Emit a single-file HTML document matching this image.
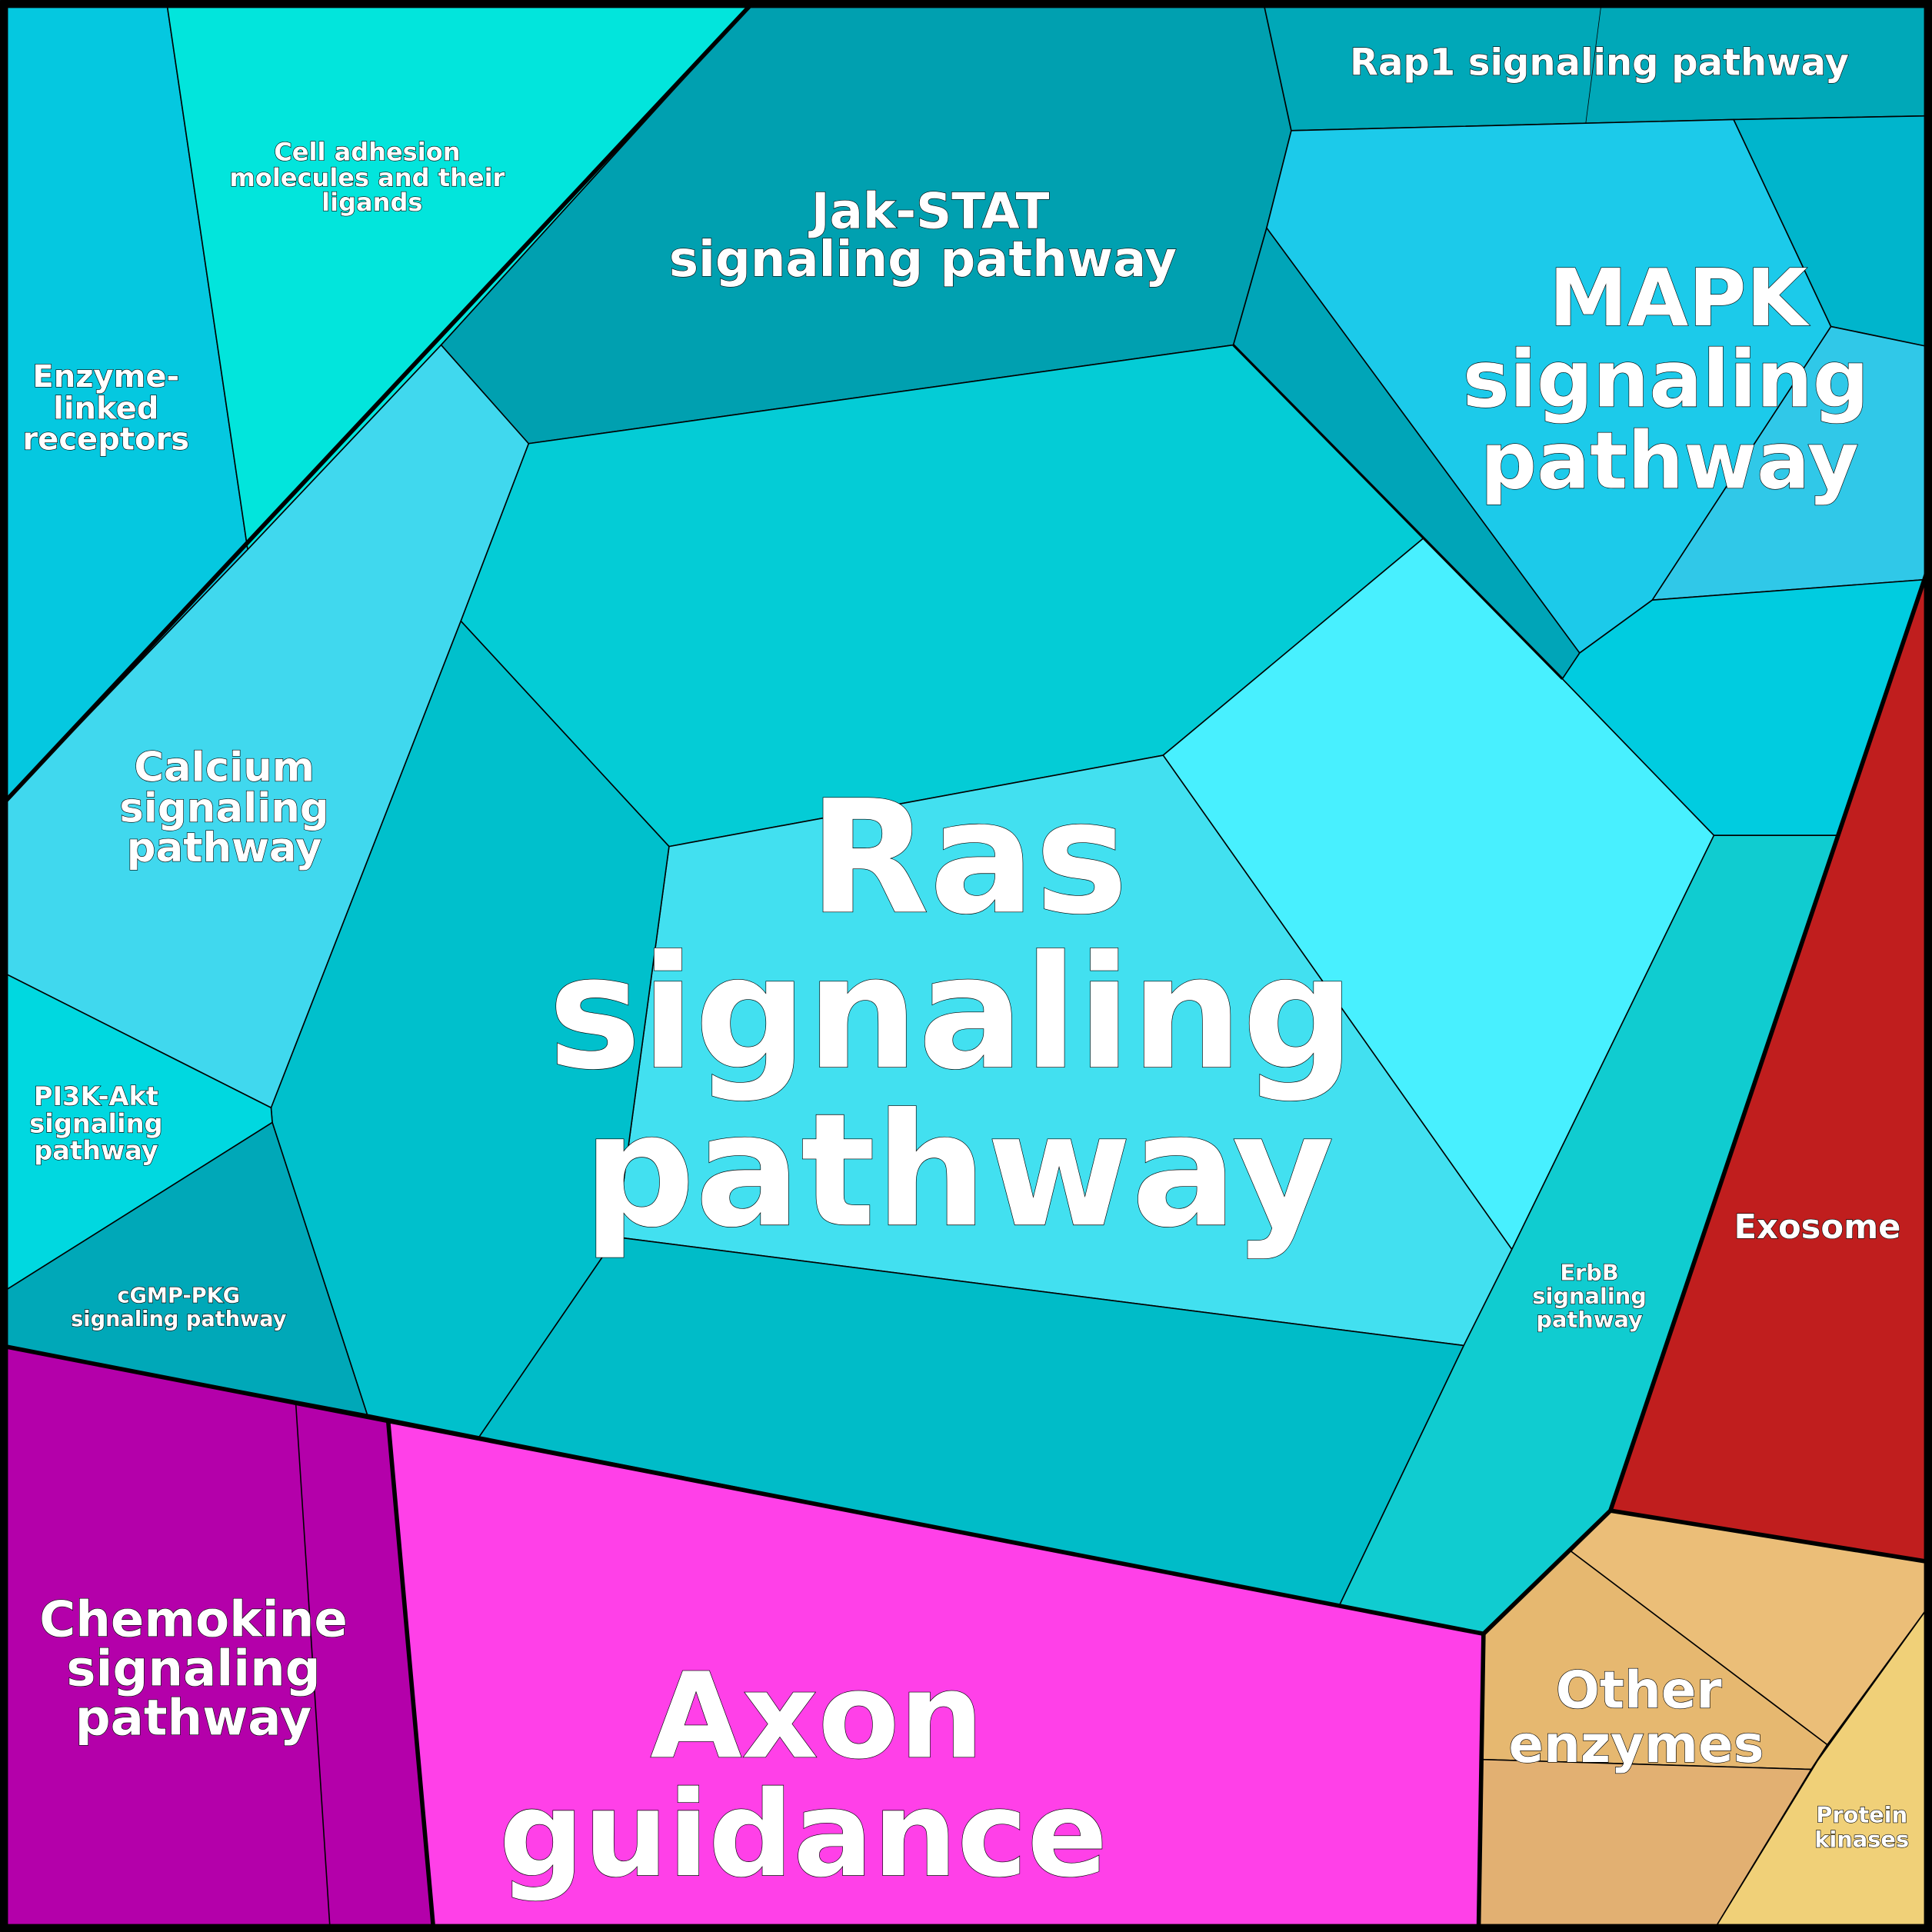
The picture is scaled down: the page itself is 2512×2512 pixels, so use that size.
<!DOCTYPE html>
<html><head><meta charset="utf-8"><style>html,body{margin:0;padding:0;background:#000}svg{display:block}
text{font-family:"DejaVu Sans","Liberation Sans",sans-serif;font-weight:bold;fill:#fff;stroke:#000;stroke-width:0.8;text-anchor:middle;paint-order:stroke}</style></head>
<body>
<svg width="2512" height="2512" viewBox="0 0 1568 1568" xmlns="http://www.w3.org/2000/svg">
<g stroke="#000" stroke-width="1" stroke-linejoin="round">
<polygon fill="#05c8e0" points="0,0 135,0 201,446 0,655"/>
<polygon fill="#02e5dc" points="135,0 613,0 358,280 201,446"/>
<polygon fill="#00a0b0" points="613,0 1025,0 1048,106 1028,185 1001,280 429,360 358,280"/>
<polygon fill="#00a8b8" points="1025,0 1568,0 1568,94 1407,97 1048,106"/>
<line x1="1300" y1="0" x2="1287" y2="100" stroke-width="0.5"/>
<polygon fill="#1ccaea" points="1048,106 1407,97 1486,265 1341,487 1282,530 1028,185"/>
<polygon fill="#00b5cc" points="1407,97 1568,94 1568,282 1486,265"/>
<polygon fill="#30c8e8" points="1486,265 1568,282 1568,470 1341,487"/>
<polygon fill="#00a5b8" points="1028,185 1282,530 1268,551 1001,280"/>
<polygon fill="#00cce0" points="1282,530 1341,487 1568,470 1492,678 1391,678 1268,551"/>
<polygon fill="#c01e1e" points="1568,452 1568,1268 1307,1226"/>
<polygon fill="#04ccd6" points="429,360 1001,280 1155,437 944,613 543,687 374,504"/>
<polygon fill="#48f0ff" points="1155,437 1268,551 1391,678 1227,1014 944,613"/>
<polygon fill="#42e0f0" points="543,687 944,613 1227,1014 1188,1092 500,1004"/>
<polygon fill="#00c0cc" points="374,504 543,687 500,1004 389,1166 298,1148 221,911 220,899"/>
<polygon fill="#00bcc8" points="500,1004 1188,1092 1087,1303 389,1166"/>
<polygon fill="#10ccd0" points="1391,678 1492,678 1307,1226 1204,1326 1087,1303 1188,1092 1227,1014"/>
<polygon fill="#40d8ee" points="358,280 429,360 374,504 220,899 0,788 0,655 201,446"/>
<polygon fill="#00d8e0" points="0,788 220,899 221,911 0,1050"/>
<polygon fill="#00a8b8" points="0,1050 221,911 298,1148 0,1092"/>
<polygon fill="#b400aa" points="0,1092 315,1153 352,1568 0,1568"/>
<line x1="240" y1="1138" x2="268" y2="1568"/>
<polygon fill="#ff40e8" points="315,1153 1204,1326 1200,1568 352,1568"/>
<polygon fill="#ebbe78" points="1307,1226 1568,1268 1568,1300 1483,1416 1275,1259"/>
<polygon fill="#e6b870" points="1275,1259 1483,1416 1470,1436 1203,1428 1204,1326 1307,1226"/>
<polygon fill="#e2b072" points="1203,1428 1470,1436 1390,1568 1200,1568"/>
<polygon fill="#f0d078" points="1568,1300 1568,1568 1390,1568 1483,1416 1470,1436"/>
</g>
<g stroke="#000" stroke-width="3.5" fill="none" stroke-linejoin="round">
<polyline points="0,1092 1204,1326 1307,1226 1568,1268"/>
<line x1="1307" y1="1226" x2="1568" y2="452"/>
<line x1="0" y1="655" x2="613" y2="0"/>
<line x1="315" y1="1153" x2="352" y2="1568"/>
<line x1="1204" y1="1326" x2="1200" y2="1568"/>
<line x1="1001" y1="280" x2="1268" y2="551" stroke-width="2"/>
<rect x="3" y="3" width="1562" height="1562" stroke-width="7"/>
</g>
<text x="786" y="740" font-size="127">Ras</text>
<text x="772" y="866" font-size="127">signaling</text>
<text x="778" y="994" font-size="127">pathway</text>
<text x="663" y="1426" font-size="96">Axon</text>
<text x="652" y="1522" font-size="96">guidance</text>
<text x="1362" y="264" font-size="64">MAPK</text>
<text x="1352" y="330" font-size="64">signaling</text>
<text x="1355" y="396" font-size="64">pathway</text>
<text x="755" y="185" font-size="40">Jak-STAT</text>
<text x="749" y="224" font-size="40">signaling pathway</text>
<text x="157" y="1328" font-size="40">Chemokine</text>
<text x="157" y="1368" font-size="40">signaling</text>
<text x="157" y="1408" font-size="40">pathway</text>
<text x="182" y="634" font-size="33">Calcium</text>
<text x="182" y="667" font-size="33">signaling</text>
<text x="182" y="699" font-size="33">pathway</text>
<text x="1330" y="1386" font-size="42">Other</text>
<text x="1328" y="1430" font-size="42">enzymes</text>
<text x="1298" y="61" font-size="30">Rap1 signaling pathway</text>
<text x="86" y="314" font-size="25">Enzyme-</text>
<text x="86" y="340" font-size="25">linked</text>
<text x="86" y="365" font-size="25">receptors</text>
<text x="298" y="130" font-size="20">Cell adhesion</text>
<text x="298" y="151" font-size="20">molecules and their</text>
<text x="302" y="171" font-size="20">ligands</text>
<text x="78" y="897" font-size="21">PI3K-Akt</text>
<text x="78" y="919" font-size="21">signaling</text>
<text x="78" y="941" font-size="21">pathway</text>
<text x="145" y="1057" font-size="17">cGMP-PKG</text>
<text x="145" y="1076" font-size="17">signaling pathway</text>
<text x="1290" y="1039" font-size="18">ErbB</text>
<text x="1290" y="1058" font-size="18">signaling</text>
<text x="1290" y="1077" font-size="18">pathway</text>
<text x="1475" y="1005" font-size="27">Exosome</text>
<text x="1511" y="1479" font-size="18">Protein</text>
<text x="1511" y="1499" font-size="18">kinases</text>
</svg>
</body></html>
